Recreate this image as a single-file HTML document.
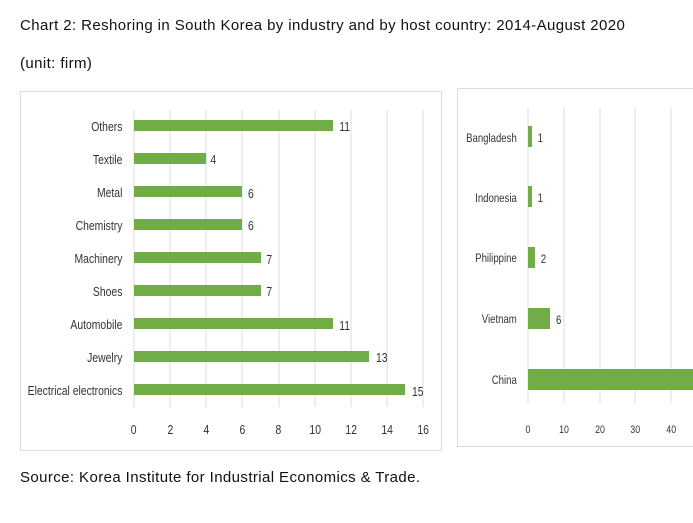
<!DOCTYPE html>
<html><head><meta charset="utf-8"><style>
body{margin:0;background:#fff;width:693px;height:523px;overflow:hidden;font-family:"Liberation Sans",sans-serif;}
.t{position:absolute;left:20px;font-size:15px;letter-spacing:0.4px;color:#111;}
</style></head><body>
<div class="t" style="top:17px">Chart 2: Reshoring in South Korea by industry and by host country: 2014-August 2020</div>
<div class="t" style="top:55px">(unit: firm)</div>
<div class="t" style="top:469px">Source: Korea Institute for Industrial Economics &amp; Trade.</div>
<svg width="693" height="523" style="position:absolute;left:0;top:0" font-family="Liberation Sans,sans-serif" font-size="13" fill="#333">
<rect x="20.5" y="91.5" width="421" height="359" fill="none" stroke="#ddd"/>
<g stroke="#ddd">
<line x1="134" y1="110" x2="134" y2="407"/><line x1="170" y1="110" x2="170" y2="407"/><line x1="206" y1="110" x2="206" y2="407"/><line x1="242" y1="110" x2="242" y2="407"/><line x1="279" y1="110" x2="279" y2="407"/><line x1="315" y1="110" x2="315" y2="407"/><line x1="351" y1="110" x2="351" y2="407"/><line x1="387" y1="110" x2="387" y2="407"/><line x1="423" y1="110" x2="423" y2="407"/>
</g>
<g fill="#70ad47">
<rect x="134" y="120" width="199" height="11"/><rect x="134" y="153" width="72" height="11"/><rect x="134" y="186" width="108" height="11"/><rect x="134" y="219" width="108" height="11"/><rect x="134" y="252" width="127" height="11"/><rect x="134" y="285" width="127" height="11"/><rect x="134" y="318" width="199" height="11"/><rect x="134" y="351" width="235" height="11"/><rect x="134" y="384" width="271" height="11"/>
</g>
<g text-anchor="end" transform="scale(0.8,1)">
<text x="153" y="131">Others</text><text x="153" y="164">Textile</text><text x="153" y="197">Metal</text><text x="153" y="230">Chemistry</text><text x="153" y="263">Machinery</text><text x="153" y="296">Shoes</text><text x="153" y="329">Automobile</text><text x="153" y="362">Jewelry</text><text x="153" y="395">Electrical electronics</text>
</g>
<g transform="scale(0.8,1)">
<text x="424" y="131">11</text><text x="263" y="164">4</text><text x="310" y="198">6</text><text x="310" y="230">6</text><text x="333" y="264">7</text><text x="333" y="296">7</text><text x="424" y="330">11</text><text x="470" y="362">13</text><text x="515" y="396">15</text>
</g>
<g text-anchor="middle" transform="scale(0.8,1)">
<text x="167" y="434">0</text><text x="213" y="434">2</text><text x="258" y="434">4</text><text x="303" y="434">6</text><text x="348" y="434">8</text><text x="394" y="434">10</text><text x="439" y="434">12</text><text x="484" y="434">14</text><text x="529" y="434">16</text>
</g>
<rect x="457.5" y="88.5" width="250" height="358" fill="none" stroke="#ddd"/>
<g stroke="#ddd">
<line x1="528" y1="107" x2="528" y2="403"/><line x1="564" y1="107" x2="564" y2="403"/><line x1="600" y1="107" x2="600" y2="403"/><line x1="635" y1="107" x2="635" y2="403"/><line x1="671" y1="107" x2="671" y2="403"/>
</g>
<g fill="#70ad47">
<rect x="528" y="126" width="4" height="21"/><rect x="528" y="186" width="4" height="21"/><rect x="528" y="247" width="7" height="21"/><rect x="528" y="308" width="22" height="21"/><rect x="528" y="369" width="170" height="21"/>
</g>
<g text-anchor="end" transform="scale(0.8,1)" font-size="12">
<text x="646" y="142">Bangladesh</text><text x="646" y="202">Indonesia</text><text x="646" y="262">Philippine</text><text x="646" y="323">Vietnam</text><text x="646" y="384">China</text>
</g>
<g transform="scale(0.8,1)" font-size="12">
<text x="672" y="142">1</text><text x="672" y="202">1</text><text x="676" y="263">2</text><text x="695" y="324">6</text>
</g>
<g text-anchor="middle" font-size="11" transform="scale(0.8,1)">
<text x="660" y="433">0</text><text x="705" y="433">10</text><text x="750" y="433">20</text><text x="794" y="433">30</text><text x="839" y="433">40</text>
</g>
</svg>
</body></html>
